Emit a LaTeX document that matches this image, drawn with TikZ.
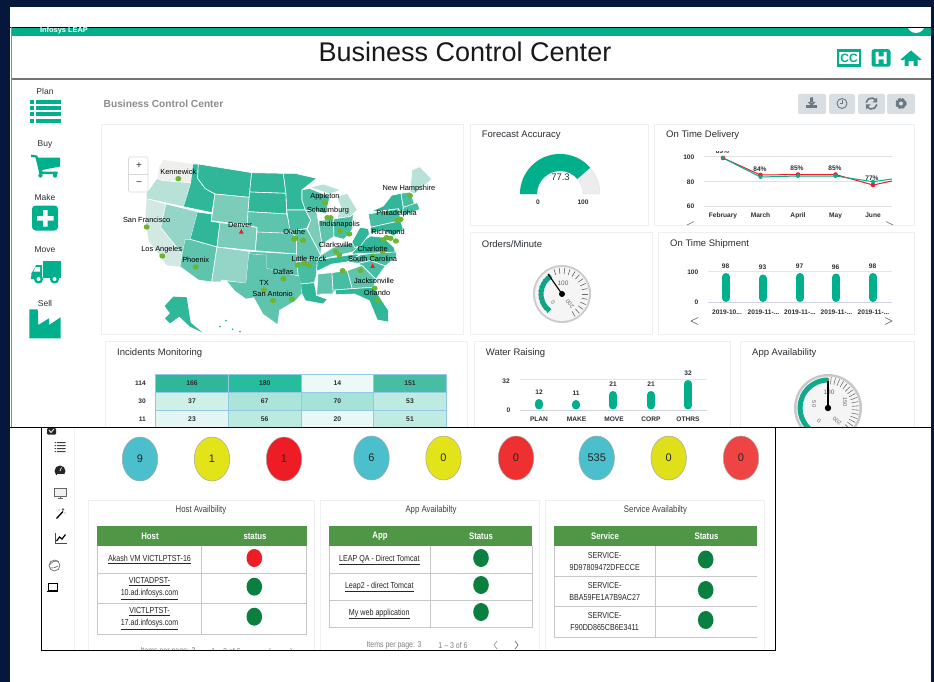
\documentclass[tikz,border=0pt]{standalone}
\usepackage{fontspec}
\setmainfont{Liberation Sans}
\newfontfamily\narrowf[FakeStretch=0.82]{Liberation Sans}
\usetikzlibrary{calc,shapes.geometric}
\definecolor{navy}{HTML}{05173A}
\definecolor{teal}{HTML}{00B08C}
\definecolor{panelb}{HTML}{EDEFF1}
\definecolor{mapA}{HTML}{30B799}
\definecolor{mapB}{HTML}{47BDA3}
\definecolor{mapC}{HTML}{5FC4AE}
\definecolor{mapD}{HTML}{7BCDBA}
\definecolor{mapE}{HTML}{94D5C7}
\definecolor{mapF}{HTML}{B8E1D8}
\definecolor{mapG}{HTML}{D2E8E3}
\definecolor{mapH}{HTML}{EFEFEE}
\definecolor{dotg}{HTML}{6CB52D}
\definecolor{tgreen}{HTML}{4F9647}
\definecolor{okg}{HTML}{0A7F3F}
\definecolor{badr}{HTML}{EE1C25}
\definecolor{btn}{HTML}{D9DEE3}
\definecolor{btni}{HTML}{6B7882}
\definecolor{cellb}{HTML}{93C9E4}
\definecolor{txtd}{HTML}{2B2F33}
\definecolor{statc}{HTML}{4BBFCB}
\definecolor{staty}{HTML}{E3E319}
\definecolor{statyb}{HTML}{DFDF1A}
\definecolor{statr}{HTML}{EE3030}
\definecolor{statrb}{HTML}{EF4444}
\tikzset{
  x=1pt,y=-1pt,
  panel/.style={draw=panelb,line width=0.9pt,fill=white},
  ptitle/.style={anchor=west,inner sep=0,font=\fontsize{9.5}{10}\selectfont,text=txtd},
  side/.style={inner sep=0,font=\fontsize{8.5}{9}\selectfont,text=txtd},
  tick/.style={inner sep=0,font=\bfseries\fontsize{6.6}{7}\selectfont,text=txtd},
  gaugelab/.style={inner sep=0,font=\fontsize{5.6}{6}\selectfont,text=black!60},
  maplab/.style={inner sep=0,font=\fontsize{7.4}{8}\selectfont,text=black},
  st/.style={draw=white,line width=0.6pt,line join=round},
  cityd/.style={fill=dotg,draw=none},
  bar/.style={line width=8pt,line cap=round,draw=teal},
  grid/.style={draw=#1,line width=0.5pt},
  heat/.style={draw=cellb,line width=0.7pt,minimum height=18.2pt,minimum width=72.7pt,inner sep=0,font=\bfseries\fontsize{6.8}{7}\selectfont,text=txtd},
  stat/.style={ellipse,draw=gray!70,line width=0.5pt,minimum width=35.5pt,minimum height=44pt,inner sep=0,font=\fontsize{11}{12}\selectfont,text=black!85},
  thead/.style={inner sep=0,font=\narrowf\bfseries\fontsize{9.5}{10}\selectfont,text=white},
  tcell/.style={inner sep=0,align=center,font=\narrowf\fontsize{8.7}{12}\selectfont,text=black!85},
  tline/.style={draw=black!22,line width=0.7pt},
  ltitle/.style={inner sep=0,font=\narrowf\fontsize{9.5}{10}\selectfont,text=black!75},
  pager/.style={inner sep=0,font=\narrowf\fontsize{8.5}{9}\selectfont,text=black!50},
  lic/.style={fill=black!85,draw=none},
}
\newcommand{\dotat}[2]{\fill[cityd] (#1,#2) ellipse (9 and 8);}
\newcommand{\trired}[2]{\fill[badr] (#1,#2-8) -- (#1+7,#2+6) -- (#1-7,#2+6) -- cycle;}
\begin{document}
\begin{tikzpicture}
\useasboundingbox (0,0) rectangle (934,682);
\fill[navy] (0,0) rectangle (934,682);
\fill[white] (10,7) rectangle (931,682);
% header
\fill[teal] (11,28) rectangle (931,36.5);
\begin{scope}
\clip (11,28) rectangle (931,36.5);
\fill[white] (916,24) circle (9);
\end{scope}
\draw[black,line width=0.9pt] (10,27.3) -- (931,27.3);
\node[inner sep=0,text=white,font=\bfseries\fontsize{7.4}{8}\selectfont] (brand) at (64,30.8) {Infosys LEAP};
\node[inner sep=0,font=\fontsize{27}{28}\selectfont,text=black!90] (title) at (465,52) {Business Control Center};
\draw[black!55,line width=1.3pt] (11,79) -- (931,79);
\draw[black!45,line width=0.9pt] (11,27) -- (11,427);
% top-right icons
\node[fill=teal,inner sep=0,minimum width=24.5pt,minimum height=17.5pt] (cc) at (849,58) {};
\node[fill=white,inner sep=0,minimum width=19.5pt,minimum height=12.5pt,text=teal,font=\bfseries\fontsize{12}{12}\selectfont] (ccin) at (849,58) {CC};
\node[fill=teal,rounded corners=2.5pt,inner sep=0,minimum width=19pt,minimum height=17.5pt] (hh) at (881,58) {};
\fill[white] (875.5,52) rectangle (878.5,64) (883.5,52) rectangle (886.5,64) (878,56.5) rectangle (884,59.5);
\fill[teal] (911,50.5) -- (921.5,59.5) -- (919.5,60.5) -- (917.5,59) -- (917.5,66) -- (913.5,66) -- (913.5,61) -- (908.5,61) -- (908.5,66) -- (904.5,66) -- (904.5,59) -- (902.5,60.5) -- (900.5,59.5) -- cycle;
% sidebar
\node[side] (nplan) at (45,91) {Plan};
\node[side] (nbuy) at (45,144) {Buy};
\node[side] (nmake) at (45,197) {Make};
\node[side] (nmove) at (45,250) {Move};
\node[side] (nsell) at (45,303) {Sell};
\foreach \yy in {100,106.2,112.4,118.6}{
  \fill[teal] (29.5,\yy) rectangle (34,\yy+4);
  \fill[teal] (36.3,\yy) rectangle (61,\yy+4);
}
\fill[teal] (31,154.5) -- (37,155.5) -- (38,157.5) -- (60,157.5) -- (60,166.5) -- (42,170) -- (42.5,171.5) -- (57.5,171.5) -- (57.5,174) -- (39.5,174) -- (35.5,157.5) -- (31,157) -- cycle;
\fill[teal] (40.5,175.5) circle (2.2) (55,175.5) circle (2.2);
\fill[teal,rounded corners=3.5pt] (32,205.5) rectangle (58,230.5);
\fill[white] (43,210) rectangle (47.5,226.5) (37,216) rectangle (53.5,220.5);
\fill[teal] (43,261) rectangle (61,278);
\fill[teal] (42,265) -- (36,265) -- (33,271) -- (31.5,273) -- (31,279) -- (42,279) -- cycle;
\fill[white] (35.5,267) -- (40,267) -- (40,271.5) -- (33.5,271.5) -- cycle;
\fill[teal] (38.5,279) circle (4.6) (54.5,279) circle (4.6);
\fill[white] (38.5,279) circle (2) (54.5,279) circle (2);
\fill[teal] (29.3,309.3) -- (37.7,309.3) -- (38.3,325) -- (49,318.3) -- (49,325) -- (60.7,317.3) -- (60.7,338.3) -- (29.3,338.3) -- cycle;
% section title and toolbar
\node[anchor=west,inner sep=0,font=\bfseries\fontsize{10.2}{11}\selectfont,text=black!45] (sect) at (103.5,104) {Business Control Center};
\foreach \xa/\xb in {798/826,829/855,858/885,887/915}{
  \fill[btn,rounded corners=2pt] (\xa,94) rectangle (\xb,114);
}
% download
\fill[btni] (810,97.5) rectangle (813,102.5) (807.5,102) -- (815.5,102) -- (811.5,106) -- cycle;
\fill[btni] (806,105.5) rectangle (817,108.5);
% clock
\draw[btni,line width=0.9pt] (842,103.5) circle (5);
\draw[btni,line width=0.8pt] (842,100.5) -- (842,103.8) -- (839.8,103.8);
% refresh
\draw[btni,line width=1.6pt] (866.1,102.5) arc (190:320:5.5);
\draw[btni,line width=1.6pt] (876.9,104.5) arc (10:140:5.5);
\fill[btni] (877,97.5) -- (877,102.5) -- (872.5,102.5) -- cycle (866,109.5) -- (866,104.5) -- (870.5,104.5) -- cycle;
% gear
\draw[btni,line width=1.6pt,dash pattern=on 2.4pt off 1.6pt] (901,103.5) circle (5);
\draw[btni,line width=2.5pt] (901,103.5) circle (3.5);
% panels
\draw[panel] (101,124.5) rectangle (463,334);
\draw[panel] (470,124.5) rectangle (648,225);
\draw[panel] (654.5,124.5) rectangle (914,225);
\draw[panel] (470,232.5) rectangle (652,334);
\draw[panel] (658.5,232.5) rectangle (914,334);
\draw[panel] (105.5,341) rectangle (467,440);
\draw[panel] (474,341) rectangle (730,440);
\draw[panel] (740,341) rectangle (914,440);
\node[ptitle] (t1) at (481.7,135.5) {Forecast Accuracy};
\node[ptitle] (t2) at (666,135.5) {On Time Delivery};
\node[ptitle] (t3) at (481.7,244) {Orders/Minute};
\node[ptitle] (t4) at (670,244) {On Time Shipment};
\node[ptitle] (t5) at (117,352.8) {Incidents Monitoring};
\node[ptitle] (t6) at (485.7,352.8) {Water Raising};
\node[ptitle] (t7) at (752,352.8) {App Availability};
% forecast gauge
\fill[black!7,draw=blue!12!black!12,line width=0.4pt] (520,194) arc (180:360:40) -- (583,194) arc (360:180:23) -- cycle;
\fill[teal] (520,194) arc (180:319:40) -- ({560+23*cos(41)},{194-23*sin(41)}) arc (319:180:23) -- cycle;
\node[inner sep=0,font=\fontsize{9.5}{10}\selectfont,text=txtd] (fa) at (560.5,177.5) {77.3};
\node[tick] (fa0) at (538,202) {0};
\node[tick] (fa1) at (583,202) {100};
% OTD chart
\foreach \yy in {156.3,181.5,206}{\draw[grid=black!12] (704,\yy) -- (892,\yy);}
\node[tick,anchor=east] (o1) at (694.5,157.3) {100};
\node[tick,anchor=east] (o2) at (694.5,181.8) {80};
\node[tick,anchor=east] (o3) at (694.5,206.3) {60};
\node[tick] (m1) at (723,215.5) {February};
\node[tick] (m2) at (760.5,215.5) {March};
\node[tick] (m3) at (798,215.5) {April};
\node[tick] (m4) at (835.5,215.5) {May};
\node[tick] (m5) at (873,215.5) {June};
\draw[badr,line width=1pt] (723,158) -- (760.5,175) -- (798,174.5) -- (835.5,174.5) -- (873,185) -- (892,181);
\draw[teal,line width=1pt] (723,158) -- (760.5,177) -- (798,176) -- (835.5,176) -- (873,181.7) -- (892,179);
\fill[badr] (723,158) circle (2.3) (760.5,175) circle (2.3) (798,174.5) circle (2.3) (835.5,174.5) circle (2.3) (873,185) circle (2.3);
\fill[teal] (723,158) circle (1.8) (760.5,177) circle (2) (798,176) circle (2) (835.5,176) circle (2) (873,181.7) circle (2);
\begin{scope}
\clip (700,151) rectangle (900,160);
\node[tick] (p1) at (722.5,151.5) {89\%};
\end{scope}
\node[tick] (p2) at (760,169) {84\%};
\node[tick] (p3) at (797,168) {85\%};
\node[tick] (p4) at (835,168) {85\%};
\node[tick] (p5) at (872,178) {77\%};
\draw[black!60,line width=0.5pt] (687,225) -- (694,221.5) (886,221.5) -- (893,225);
% orders gauge
\fill[black!20] (562,294) circle (29);
\fill[black!4] (562,294) circle (27);
\draw[teal,line width=5pt] ({562+21*cos(234)},{294-21*sin(234)}) arc (126:238:21);
\foreach \a in {122,132,...,234}{\draw[black!60,line width=0.4pt] ({562+19*cos(\a)},{294-19*sin(\a)}) -- ({562+24*cos(\a)},{294-24*sin(\a)});}
\foreach \a in {-60,-48,...,110}{\draw[black!60,line width=0.6pt] ({562+20*cos(\a)},{294-20*sin(\a)}) -- ({562+26*cos(\a)},{294-26*sin(\a)});}
\node[inner sep=0,font=\fontsize{6.5}{7}\selectfont,text=black!60] (og1) at (563,283.5) {100};
\node[gaugelab,rotate=-50] (og0) at (553,302) {0};
\node[gaugelab,rotate=130] (og2) at (570,304) {200};
\draw[black,line width=1.1pt] (562,294) -- (548,274);
\fill[black] (562,294) circle (3);
% OTS chart
\draw[grid=black!10] (708,271.5) -- (892,271.5);
\draw[grid=blue!30!black!18] (708,302.3) -- (892,302.3);
\foreach \xx/\yy in {726/277,763/278.5,800/277,836/277.5,873/277}{\draw[bar] (\xx,\yy) -- (\xx,298);}
\node[tick] (s1) at (725.5,266) {98};
\node[tick] (s2) at (762.5,267.5) {93};
\node[tick] (s3) at (799.5,266) {97};
\node[tick] (s4) at (835.5,267) {96};
\node[tick] (s5) at (872.5,266) {98};
\node[tick,anchor=east] (sa) at (698.5,272) {100};
\node[tick,anchor=east] (sb) at (698.5,302.5) {0};
\node[tick] (d1) at (727,312) {2019-10...};
\node[tick] (d2) at (763.5,312) {2019-11-...};
\node[tick] (d3) at (800,312) {2019-11-...};
\node[tick] (d4) at (836.5,312) {2019-11-...};
\node[tick] (d5) at (873.5,312) {2019-11-...};
\draw[black!65,line width=0.5pt] (698,317.5) -- (691,321) -- (698,324.5);
\draw[black!65,line width=0.5pt] (885,317.5) -- (892,321) -- (885,324.5);
% incidents
\node[tick,anchor=east] (r1) at (146,383.5) {114};
\node[tick,anchor=east] (r2) at (146,401.5) {30};
\node[tick,anchor=east] (r3) at (146,419.5) {11};
\node[heat,fill=mapA] (h11) at (192,383) {166};
\node[heat,fill=teal!85!white] (h12) at (264.7,383) {180};
\node[heat,fill=teal!7!white] (h13) at (337.3,383) {14};
\node[heat,fill=mapB] (h14) at (410,383) {151};
\node[heat,fill=teal!19!white] (h21) at (192,401.2) {37};
\node[heat,fill=teal!33!white] (h22) at (264.7,401.2) {67};
\node[heat,fill=teal!35!white] (h23) at (337.3,401.2) {70};
\node[heat,fill=teal!26!white] (h24) at (410,401.2) {53};
\node[heat,fill=teal!11!white] (h31) at (192,419.4) {23};
\node[heat,fill=teal!27!white] (h32) at (264.7,419.4) {56};
\node[heat,fill=teal!9!white] (h33) at (337.3,419.4) {20};
\node[heat,fill=teal!25!white] (h34) at (410,419.4) {51};
% water
\draw[grid=black!10] (520,379.5) -- (707,379.5);
\draw[grid=blue!30!black!18] (520,410.5) -- (707,410.5);
\foreach \xx/\yy in {539/403,576/404,613/395,651/395,688/384}{\draw[bar] (\xx,\yy) -- (\xx,405.5);}
\node[tick] (w1) at (539,392.5) {12};
\node[tick] (w2) at (576,393.5) {11};
\node[tick] (w3) at (613,384.5) {21};
\node[tick] (w4) at (651,384.5) {21};
\node[tick] (w5) at (688,373) {32};
\node[tick] (wa) at (506,381) {32};
\node[tick] (wb) at (508.5,410.5) {0};
\node[tick] (wl1) at (539,419.5) {PLAN};
\node[tick] (wl2) at (576.5,419.5) {MAKE};
\node[tick] (wl3) at (614,419.5) {MOVE};
\node[tick] (wl4) at (651,419.5) {CORP};
\node[tick] (wl5) at (688,419.5) {OTHRS};
% app gauge
\begin{scope}
\clip (740,341) rectangle (914,427);
\fill[black!22] (828,408) circle (34);
\fill[black!4] (828,408) circle (31.5);
\draw[teal,line width=5pt] ({828+28*cos(235)},{408-28*sin(235)}) arc (125:270:28);
\foreach \a in {90,98,...,235}{\draw[black!50,line width=0.3pt] ({828+25.5*cos(\a)},{408-25.5*sin(\a)}) -- ({828+30.5*cos(\a)},{408-30.5*sin(\a)});}
\foreach \a in {-60,-52,...,84}{\draw[black!55,line width=0.6pt] ({828+24*cos(\a)},{408-24*sin(\a)}) -- ({828+31*cos(\a)},{408-31*sin(\a)});}
\node[inner sep=0,font=\fontsize{6.5}{7}\selectfont,text=black!60] (ag1) at (829,392) {100};
\node[gaugelab,rotate=-90] (ag2) at (814,404) {50};
\node[gaugelab,rotate=-90] (ag3) at (845,402) {150};
\node[gaugelab,rotate=-40] (ag4) at (819,421) {0};
\node[gaugelab,rotate=140] (ag5) at (837,421) {200};
\draw[black,line width=1.2pt] (828,408) -- (828,381);
\fill[black] (828,408) circle (3.2);
\end{scope}
% lower screen
\fill[white] (10,428) rectangle (931,682);
\draw[black!5,line width=0.6pt] (74,428) -- (74,650);
% lower sidebar icons
\fill[lic,rounded corners=1pt] (47,428) rectangle (56,434.5);
\draw[white,line width=0.8pt] (49,430) -- (51,432.5) -- (54,429);
\foreach \yy in {443,446,449,452}{\fill[black!75] (54.5,\yy-1) rectangle (56,\yy) (57,\yy-1) rectangle (65.5,\yy);}
\fill[lic] (60,471) circle (5.5);
\fill[white] (56.5,473.5) rectangle (63.5,476.5);
\draw[white,line width=0.7pt] (60,471) -- (61.5,467.5);
\draw[black!60,line width=0.7pt,fill=black!6] (54.5,488) rectangle (66,496.5);
\draw[black!60,line width=0.8pt] (60,496.5) -- (60,498.5) (57.5,498.8) -- (62.5,498.8);
\draw[black,line width=1.3pt] (56.5,518.5) -- (63,511.5);
\fill[black!60] (63,509.5) circle (1.3) (59,510) circle (0.7) (65,513) circle (0.7);
\draw[black!70,line width=0.7pt] (55,532.5) -- (55,543) -- (66.5,543);
\draw[black,line width=1.2pt] (56.5,541) -- (59.5,537) -- (62,539) -- (65.5,534.5);
\draw[black!65,line width=0.6pt] (54.5,565.5) circle (5.5);
\draw[black!65,line width=0.6pt] (49.5,565) to[bend left=30] (58,561) (50,568) to[bend right=20] (58,566);
\draw[black,line width=0.7pt] (48,583) rectangle (57,590);
\draw[black,line width=1pt] (47,591.5) -- (58,591.5);
% status circles
\node[stat,fill=statc] (k1) at (140,459) {9};
\node[stat,fill=staty] (k2) at (212,459) {1};
\node[stat,fill=badr] (k3) at (284,459) {1};
\node[stat,fill=statc] (k4) at (371.5,458) {6};
\node[stat,fill=staty] (k5) at (443.5,458) {0};
\node[stat,fill=statr] (k6) at (516,458) {0};
\node[stat,fill=statc] (k7) at (596.7,458) {535};
\node[stat,fill=statyb] (k8) at (668.7,458) {0};
\node[stat,fill=statrb] (k9) at (741,458) {0};
% availability panels
\begin{scope}
\clip (42,428) rectangle (775,650);
\draw[panel] (88.7,500) rectangle (314,670);
\draw[panel] (320,500) rectangle (539.5,670);
\draw[panel] (545,500) rectangle (764.5,670);
\node[pager] (hp1) at (168,651) {Items per page: 3};
\node[pager] (hp2) at (226,651) {1 – 3 of 6};
\node[pager] (hp3) at (270,651) {‹};
\node[pager] (hp4) at (291,651) {›};
\end{scope}
\draw[black,line width=0.9pt] (10,427.5) -- (931,427.5);
\draw[black,line width=0.9pt] (41.5,427.5) -- (41.5,650.5) -- (775.5,650.5) -- (775.5,427.5);
\node[ltitle] (l1) at (201,510.3) {Host Availbility};
\node[ltitle] (l2) at (431,510.3) {App Availabilty};
\node[ltitle] (l3) at (655.5,510.3) {Service Availabilty};
% host table
\fill[tgreen] (97,526) rectangle (306.7,546);
\draw[tline] (97.3,546) -- (97.3,634) -- (306.7,634) -- (306.7,546) (201.3,546) -- (201.3,634) (97.3,573.3) -- (306.7,573.3) (97.3,603.3) -- (306.7,603.3);
\node[thead] (hh1) at (150,536) {Host};
\node[thead] (hh2) at (255,536) {status};
\node[tcell] (hc1) at (149.5,559.8) {\underline{Akash VM VICTLPTST-16}};
\node[tcell] (hc2) at (149.5,588.5) {\underline{VICTADPST-}\\\underline{10.ad.infosys.com}};
\node[tcell] (hc3) at (149.5,618.5) {\underline{VICTLPTST-}\\\underline{17.ad.infosys.com}};
\fill[badr] (254.3,558) ellipse (7.8 and 9);
\fill[okg] (254.3,586.7) ellipse (7.8 and 9) (254.3,616.7) ellipse (7.8 and 9);
% app table
\fill[tgreen] (329,526) rectangle (532,546);
\draw[tline] (329.3,546) -- (329.3,627.5) -- (532.3,627.5) -- (532.3,546) (430.3,546) -- (430.3,627.5) (329.3,573.3) -- (532.3,573.3) (329.3,600.3) -- (532.3,600.3);
\node[thead] (ah1) at (380,536) {App};
\node[thead] (ah2) at (481,536) {Status};
\node[tcell] (ac1) at (379.3,559.8) {\underline{LEAP QA - Direct Tomcat}};
\node[tcell] (ac2) at (379.3,587) {\underline{Leap2 - direct Tomcat}};
\node[tcell] (ac3) at (379.3,613.8) {\underline{My web application}};
\fill[okg] (481,558) ellipse (7.8 and 9) (481,585) ellipse (7.8 and 9) (481,612) ellipse (7.8 and 9);
\node[pager] (ap1) at (394,645) {Items per page: 3};
\node[pager] (ap2) at (453,645) {1 – 3 of 6};
\draw[black!40,line width=0.7pt] (497,641) -- (494,645) -- (497,649);
\draw[black!55,line width=0.7pt] (515,641) -- (518,645) -- (515,649);
% service table
\fill[tgreen] (554,526) rectangle (756.7,546);
\draw[tline] (554.3,546) -- (554.3,637) -- (756.7,637) (655.3,546) -- (655.3,637) (554.3,576.3) -- (756.7,576.3) (554.3,606.7) -- (756.7,606.7);
\node[thead] (sh1) at (605,536) {Service};
\node[thead] (sh2) at (706.5,536) {Status};
\node[tcell] (sc1) at (604.7,561) {SERVICE-\\9D97809472DFECCE};
\node[tcell] (sc2) at (604.7,591.5) {SERVICE-\\BBA59FE1A7B9AC27};
\node[tcell] (sc3) at (604.7,621.8) {SERVICE-\\F90DD865CB6E3411};
\fill[okg] (705.7,559.5) ellipse (7.8 and 9) (705.7,590) ellipse (7.8 and 9) (705.7,620) ellipse (7.8 and 9);
% zoom control
\fill[white,draw=black!15,line width=0.6pt,rounded corners=1.5pt] (128.5,157) rectangle (148,192);
\draw[black!15,line width=0.6pt] (128.5,174.5) -- (148,174.5);
\node[inner sep=0,font=\fontsize{10}{10}\selectfont,text=black!80] (zp) at (139,166) {+};
\node[inner sep=0,font=\fontsize{10}{10}\selectfont,text=black!80] (zm) at (139,184) {−};
% MAP
\begin{scope}[xshift=120pt,yshift=-150pt,x=0.3333pt,y=-0.3333pt]
\filldraw[st,fill=mapA] (218,42) -- (235,42) -- (233,85) -- (256,116) -- (285,132) -- (276,188) -- (190,170) -- (205,122) -- (212,98) -- cycle;
\filldraw[st,fill=mapA] (235,42) -- (395,68) -- (388,142) -- (285,132) -- (256,116) -- (233,85) -- cycle;
\filldraw[st,fill=mapD] (285,132) -- (388,142) -- (382,226) -- (274,212) -- cycle;
\filldraw[st,fill=mapA] (232,186) -- (276,192) -- (273,214) -- (300,218) -- (291,291) -- (210,268) -- cycle;
\filldraw[st,fill=mapD] (300,218) -- (411,232) -- (406,302) -- (291,291) -- cycle;
\filldraw[st,fill=mapC] (210,268) -- (291,291) -- (275,396) -- (235,390) -- (180,350) -- (186,312) -- (195,268) -- cycle;
\filldraw[st,fill=mapE] (291,291) -- (388,304) -- (378,400) -- (305,390) -- (302,396) -- (275,396) -- cycle;
\filldraw[st,fill=mapA] (395,68) -- (490,70) -- (498,130) -- (389,126) -- cycle;
\filldraw[st,fill=mapA] (389,126) -- (498,130) -- (500,192) -- (384,185) -- cycle;
\filldraw[st,fill=mapC] (384,185) -- (500,192) -- (510,225) -- (530,262) -- (411,248) -- (411,232) -- (382,226) -- cycle;
\filldraw[st,fill=mapC] (411,246) -- (517,250) -- (530,262) -- (530,312) -- (406,302) -- cycle;
\filldraw[st,fill=mapC] (388,304) -- (530,312) -- (535,378) -- (480,366) -- (440,355) -- (440,316) -- (387,312) -- cycle;
\filldraw[st,fill=mapA] (490,70) -- (525,70) -- (590,85) -- (546,120) -- (546,150) -- (556,180) -- (500,180) -- (498,130) -- cycle;
\filldraw[st,fill=mapB] (500,180) -- (556,180) -- (572,210) -- (560,236) -- (510,242) -- cycle;
\filldraw[st,fill=mapC] (510,242) -- (560,236) -- (590,292) -- (602,316) -- (590,332) -- (530,336) -- (530,262) -- cycle;
\filldraw[st,fill=mapB] (530,336) -- (592,326) -- (590,372) -- (583,398) -- (542,402) -- (535,378) -- cycle;
\filldraw[st,fill=mapA] (542,402) -- (583,398) -- (590,436) -- (622,448) -- (610,462) -- (556,452) -- (545,430) -- cycle;
\filldraw[st,fill=mapC] (594,372) -- (636,368) -- (640,432) -- (604,432) -- (590,436) -- cycle;
\filldraw[st,fill=mapB] (636,368) -- (682,362) -- (697,416) -- (645,420) -- (640,432) -- cycle;
\filldraw[st,fill=mapA] (592,330) -- (706,312) -- (722,314) -- (680,336) -- (636,342) -- (590,364) -- cycle;
\filldraw[st,fill=mapC] (602,316) -- (640,292) -- (672,284) -- (698,280) -- (716,302) -- (592,330) -- cycle;
\filldraw[st,fill=mapD] (556,180) -- (590,186) -- (602,252) -- (606,282) -- (602,316) -- (590,292) -- (562,238) -- (572,210) -- cycle;
\filldraw[st,fill=mapC] (595,212) -- (640,207) -- (642,260) -- (606,282) -- cycle;
\filldraw[st,fill=mapB] (640,207) -- (682,200) -- (700,190) -- (696,240) -- (672,268) -- (642,260) -- cycle;
\filldraw[st,fill=mapB] (546,120) -- (568,115) -- (630,140) -- (622,172) -- (618,190) -- (556,180) -- (546,150) -- cycle;
\filldraw[st,fill=mapF] (650,140) -- (682,130) -- (712,180) -- (690,200) -- (652,204) -- (662,170) -- cycle;
\filldraw[st,fill=mapF] (570,112) -- (610,102) -- (662,120) -- (630,132) -- cycle;
\filldraw[st,fill=mapB] (682,336) -- (722,314) -- (828,304) -- (830,320) -- (796,348) -- (752,332) -- (716,340) -- cycle;
\filldraw[st,fill=mapB] (716,340) -- (752,332) -- (796,348) -- (768,388) -- cycle;
\filldraw[st,fill=mapC] (682,362) -- (726,346) -- (768,388) -- (760,412) -- (697,416) -- cycle;
\filldraw[st,fill=mapA] (645,420) -- (697,416) -- (760,412) -- (806,482) -- (805,516) -- (772,510) -- (748,452) -- (704,432) -- (648,434) -- cycle;
\filldraw[st,fill=mapA] (694,312) -- (730,272) -- (752,258) -- (790,262) -- (822,292) -- (826,306) -- cycle;
\filldraw[st,fill=mapA] (696,276) -- (720,232) -- (745,236) -- (748,252) -- (722,288) -- (704,292) -- cycle;
\filldraw[st,fill=mapB] (745,192) -- (836,176) -- (842,212) -- (752,232) -- cycle;
\filldraw[st,fill=mapA] (752,232) -- (842,212) -- (850,238) -- (820,258) -- (790,240) -- (752,252) -- cycle;
\filldraw[st,fill=mapA] (750,186) -- (790,168) -- (815,136) -- (843,130) -- (850,172) -- (845,200) -- (836,176) -- cycle;
\filldraw[st,fill=mapB] (843,130) -- (872,126) -- (884,165) -- (850,172) -- cycle;
\filldraw[st,fill=mapF] (870,126) -- (876,60) -- (900,50) -- (936,88) -- (884,132) -- cycle;
\filldraw[st,fill=mapB] (850,172) -- (892,158) -- (900,178) -- (848,198) -- cycle;
\fill[mapA] (160,440) -- (200,442) -- (212,518) -- (248,548) -- (210,530) -- (178,500) -- (150,520) -- (135,505) -- (150,490) -- (134,468) -- cycle;
\foreach \dx/\dy in {300/530,318/512,338/538,360/545}{\fill[mapA] (\dx,\dy) circle (3);}
\end{scope}
% west states and Texas
\fill[mapH] (163.3,160) -- (192.7,164) -- (190.7,182.7) -- (163.3,180.7) -- (157.3,178.7) -- (159.3,166.7) -- cycle;
\fill[mapF] (157.3,178.7) -- (163.3,180.7) -- (190.7,182.7) -- (188.3,190.7) -- (183.3,206.7) -- (146.7,198.7) -- (146.7,193.3) -- cycle;
\fill[mapG] (146.7,198.7) -- (165.7,204.3) -- (160.7,227.3) -- (182,254) -- (180,266.7) -- (166.7,265.3) -- (158.7,254) -- (148.7,240.7) -- (145.3,218.3) -- cycle;
\fill[mapE] (165.7,204.3) -- (197.3,212) -- (190,239.3) -- (185,239.3) -- (182,254) -- (160.7,227.3) -- cycle;
\fill[mapC] (249,254) -- (266.7,255.3) -- (266.7,268.3) -- (280,272) -- (300,276.7) -- (301.7,293.3) -- (295,300.7) -- (279.3,310) -- (277.3,324) -- (263.3,314) -- (254,297.3) -- (246,298.7) -- (235,290.7) -- (227.3,281.3) -- (246,283.3) -- cycle;
\draw[white,line width=0.6pt,line join=round] (157.3,178.7) -- (163.3,180.7) -- (190.7,182.7) (146.7,198.7) -- (183.3,206.7) (165.7,204.3) -- (160.7,227.3) -- (182,254);
% cities
\begin{scope}[xshift=120pt,yshift=-150pt,x=0.3333pt,y=-0.3333pt]
\dotat{175}{86}\dotat{615}{158}\dotat{622}{203}\dotat{632}{203}\dotat{832}{211}\dotat{842}{208}
\dotat{80}{231}\dotat{660}{242}\dotat{688}{252}\dotat{790}{270}\dotat{800}{263}\dotat{812}{265}
\dotat{828}{273}\dotat{522}{267}\dotat{527}{265}\dotat{549}{271}\dotat{648}{305}\dotat{658}{315}
\dotat{788}{305}\dotat{127}{318}\dotat{533}{345}\dotat{553}{340}\dotat{568}{347}\dotat{760}{318}
\dotat{227}{351}\dotat{668}{362}\dotat{722}{362}\dotat{490}{386}\dotat{764}{415}\dotat{432}{420}
\dotat{459}{452}\dotat{516}{448}\dotat{773}{451}\dotat{870}{137}
\trired{364}{245}\trired{758}{348}
\node[maplab] (c1) at (175,65) {Kennewick};
\node[maplab] (c2) at (867,117) {New Hampshire};
\node[maplab] (c3) at (615,140) {Appleton};
\node[maplab] (c4) at (624,182) {Schaumburg};
\node[maplab] (c5) at (830,191) {Philadelphia};
\node[maplab] (c6) at (80,211) {San Francisco};
\node[maplab] (c7) at (360,224) {Denver};
\node[maplab] (c8) at (660,223) {Indianapolis};
\node[maplab] (c9) at (804,245) {Richmond};
\node[maplab] (c10) at (523,247) {Olathe};
\node[maplab] (c11) at (647,286) {Clarksville};
\node[maplab] (c12) at (758,298) {Charlotte};
\node[maplab] (c13) at (125,298) {Los Angeles};
\node[maplab] (c14) at (567,327) {Little Rock};
\node[maplab] (c15) at (758,327) {South Carolina};
\node[maplab] (c16) at (227,331) {Phoenix};
\node[maplab] (c17) at (490,366) {Dallas};
\node[maplab] (c18) at (762,394) {Jacksonville};
\node[maplab] (c19) at (432,400) {TX};
\node[maplab] (c20) at (458,431) {San Antonio};
\node[maplab] (c21) at (771,430) {Orlando};
\end{scope}
\end{tikzpicture}
\end{document}
